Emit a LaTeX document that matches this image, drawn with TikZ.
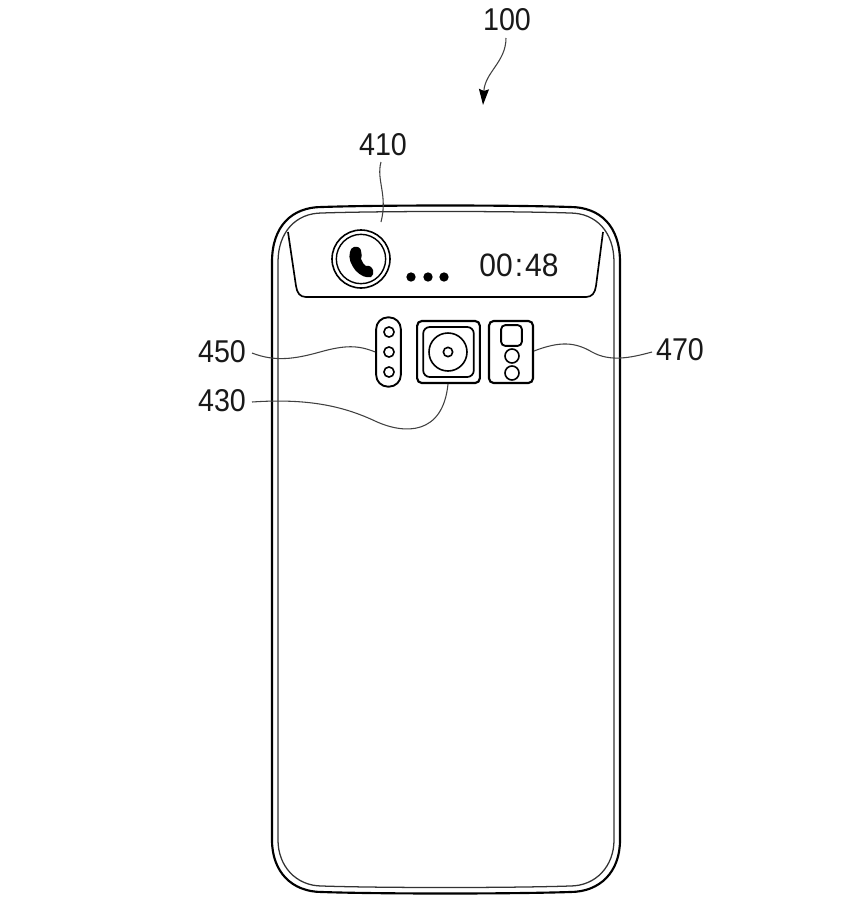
\documentclass[tikz,border=0pt]{standalone}
\usepackage{fontspec}
\setmainfont{Liberation Sans}
\usetikzlibrary{arrows.meta}
\tikzset{
  x=0.75pt,y=-0.75pt,
  heavy/.style={draw=black,line width=1.6pt,line join=round},
  medium/.style={draw=black,line width=1.25pt,line join=round},
  inner line/.style={draw=black!80,line width=0.95pt},
  leader/.style={draw=black!75,line width=0.8pt},
  lbl/.style={inner sep=0pt,yscale=1.1,font=\fontsize{21.5}{24}\selectfont,text=black!90},
  ring/.style={circle,draw=black,line width=1.05pt,inner sep=0pt},
  dotnode/.style={circle,fill=black,inner sep=0pt,minimum size=7pt},
  squarebox/.style={draw=black,line width=1.4pt,rounded corners=3.5pt,inner sep=0pt,anchor=center},
}
\begin{document}
\begin{tikzpicture}
\useasboundingbox (0,0) rectangle (843,914);
\fill[white] (0,0) rectangle (843,914);
% body outer
\path[heavy] (272,262) .. controls (272,226) and (292,207) .. (322,207)
  .. controls (380,205) and (510,205) .. (570,207)
  .. controls (600,207) and (620,226) .. (620,262)
  -- (620,840) .. controls (620,872) and (600,892) .. (570,892)
  .. controls (510,894) and (380,894) .. (322,892)
  .. controls (292,892) and (272,872) .. (272,840) -- cycle;
% body inner
\path[inner line] (278,262) .. controls (278,232) and (296,213) .. (322,213)
  .. controls (380,211) and (510,211) .. (570,213)
  .. controls (596,213) and (614,232) .. (614,262)
  -- (614,840) .. controls (614,866) and (596,886) .. (570,886)
  .. controls (510,888) and (380,888) .. (322,886)
  .. controls (296,886) and (278,866) .. (278,840) -- cycle;
% display panel
\path[medium] (288,232) -- (296,286) .. controls (297,293) and (300,297) .. (306,297)
  -- (586,297) .. controls (592,297) and (595,293) .. (596,286) -- (603,232);
% call icon
\node[ring,minimum size=43.5pt,line width=1.2pt] (callouter) at (361,259) {};
\node[ring,minimum size=37pt] (callinner) at (361,259) {};
\fill[black] (354,247) .. controls (358,246) and (361,248) .. (361,251)
  .. controls (362,254) and (362,257) .. (361,259)
  .. controls (362,262) and (364,265) .. (366,266)
  .. controls (369,265) and (372,267) .. (373,270)
  .. controls (374,273) and (373,276) .. (371,277)
  .. controls (366,278) and (361,276) .. (356,271)
  .. controls (351,265) and (348,258) .. (350,252)
  .. controls (350,249) and (352,248) .. (354,247) -- cycle;
% dots
\node[dotnode] (d1) at (411,277) {};
\node[dotnode] (d2) at (428,277) {};
\node[dotnode] (d3) at (444,277) {};
% time
\node[inner sep=0pt,yscale=1.08,font=\fontsize{22.5}{24}\selectfont,text=black!90] (time) at (519,265) {00\kern1.5pt:\kern1.5pt48};
% flash module
\node[draw=black,line width=1.4pt,rounded corners=8.8pt,minimum width=18.5pt,minimum height=52pt,inner sep=0pt] (flash) at (388.5,352) {};
\node[ring,line width=1.2pt,minimum size=7.6pt] (f1) at (389,332) {};
\node[ring,line width=1.2pt,minimum size=7.6pt] (f2) at (389,352) {};
\node[ring,line width=1.2pt,minimum size=7.6pt] (f3) at (389,372) {};
% camera module
\node[squarebox,line width=1.6pt,minimum width=47pt,minimum height=46.5pt] (cam) at (448.5,352) {};
\node[squarebox,line width=1.3pt,rounded corners=5pt,minimum width=38pt,minimum height=37.5pt] (camin) at (448.5,352) {};
\node[ring,line width=1.2pt,minimum size=28.5pt] (lens) at (448,352) {};
\node[ring,line width=1.2pt,minimum size=7pt] (lensc) at (448,352) {};
% sensor module
\node[squarebox,line width=1.6pt,minimum width=33pt,minimum height=46.5pt] (sens) at (511,352) {};
\node[squarebox,rounded corners=3pt,minimum width=15.5pt,minimum height=15.5pt] (s0) at (511.5,335.5) {};
\node[ring,line width=1.2pt,minimum size=10.5pt] (s1) at (512,356) {};
\node[ring,line width=1.2pt,minimum size=10.5pt] (s2) at (512,373) {};
% labels
\node[lbl] (l100) at (507,20) {100};
\node[lbl] (l410) at (383,145) {410};
\node[lbl] (l450) at (222,352) {450};
\node[lbl] (l430) at (222,401) {430};
\node[lbl] (l470) at (680,350) {470};
\coordinate (a100) at (483,105);
\coordinate (e410) at (381,222);
% leaders
\path[leader,-{Stealth[length=12pt,width=7.5pt,inset=1.5pt,black]}] (506,38) .. controls (506,62) and (485,72) .. (a100);
\path[leader] (381,162) .. controls (376,180) and (388,195) .. (e410);
\path[leader] (252,353) .. controls (275,362) and (295,359) .. (320,352)
  .. controls (345,345) and (358,345) .. (flash.west);
\path[leader] (252,402) .. controls (310,398) and (345,407) .. (375,421)
  .. controls (405,435) and (443,435) .. (448,384);
\path[leader] (534,351) .. controls (560,341) and (575,342) .. (592,352)
  .. controls (610,362) and (630,358) .. (652,352);
\end{tikzpicture}
\end{document}
